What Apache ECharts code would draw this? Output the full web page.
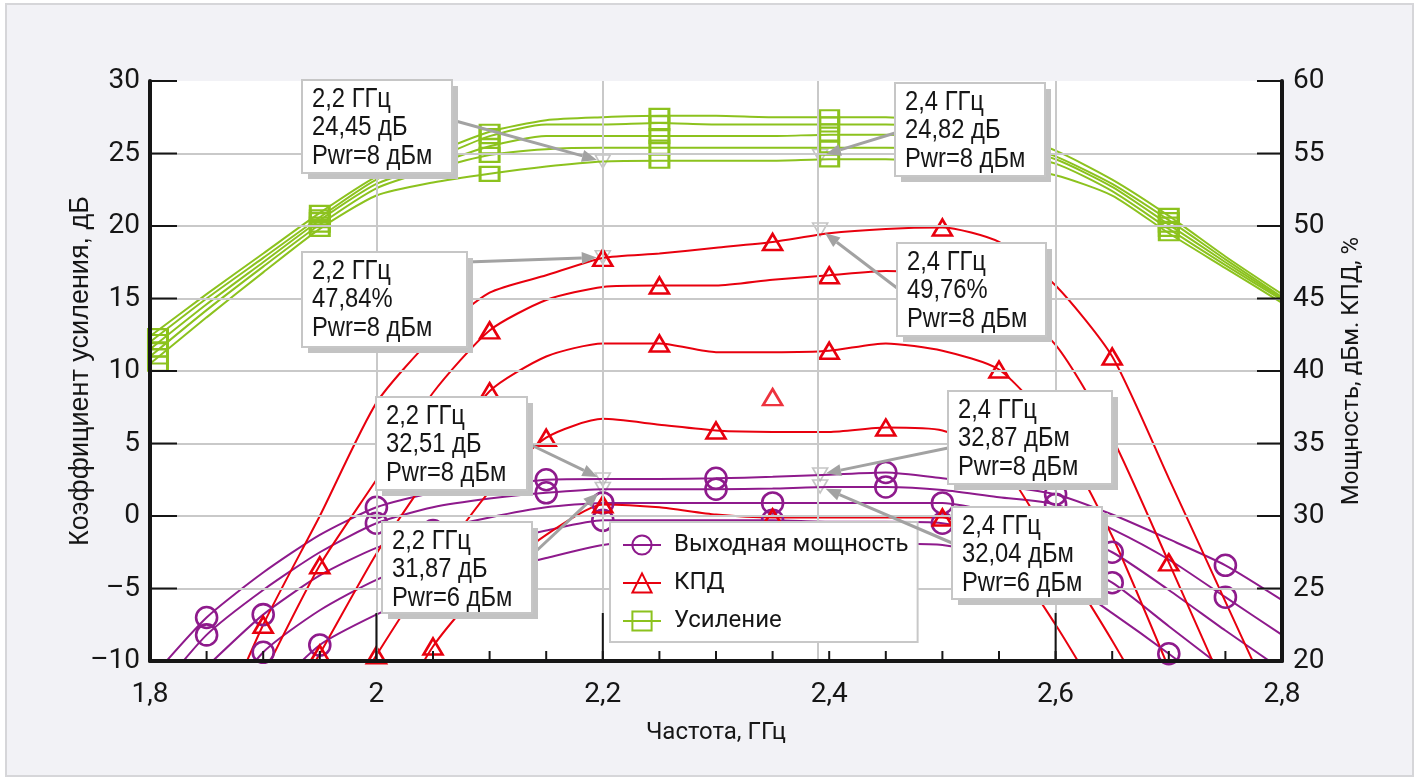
<!DOCTYPE html>
<html><head><meta charset="utf-8">
<script src="https://cdn.jsdelivr.net/npm/echarts@6/dist/echarts.min.js"></script>
<style>
html,body{margin:0;padding:0;background:#fff;overflow:hidden;}
#frame{position:absolute;left:5px;top:3px;width:1405px;height:770px;border:2px solid #d6d6d9;background:#f2f2f6;}
#plotbg{position:absolute;left:150px;top:81px;width:1132px;height:580px;background:#fff;}
#chart{position:absolute;left:0;top:0;width:1422px;height:780px;}
</style></head><body><div id="frame"></div><div id="plotbg"></div><div id="chart"></div>
<script>
// ---------- data ----------
const freq = [1.8,1.85,1.9,1.95,2.0,2.05,2.1,2.15,2.2,2.25,2.3,2.35,2.4,2.45,2.5,2.55,2.6,2.65,2.7,2.75,2.8];
// tick positions
const leftTicks  = [-10,-5,0,5,10,15,20,25,30];
const rightTicks = [20,25,30,35,40,45,50,55,60];
const xMinorTicks = [1.85,1.9,1.95,2.0,2.05,2.1,2.15,2.2,2.25,2.3,2.35,2.4,2.45,2.5,2.55,2.6,2.65,2.7,2.75];
const xLongTicks = [2.0,2.2,2.6];
// gain, dB (left axis)
const gain1 = [12.4,15.3,18.1,20.9,23.4,25.0,26.5,27.3,27.5,27.6,27.6,27.5,27.5,27.5,27.2,26.5,25.2,23.2,20.7,17.9,15.3];
const gain2 = [12.0,15.0,17.8,20.6,23.2,24.6,26.2,27.0,27.0,27.1,27.0,27.0,27.0,27.0,26.8,26.1,24.8,22.9,20.4,17.7,15.1];
const gain3 = [11.5,14.6,17.5,20.4,22.9,24.2,25.5,26.2,26.2,26.2,26.2,26.2,26.3,26.3,26.1,25.6,24.6,22.7,20.1,17.5,15.0];
const gain4 = [11.0,14.2,17.2,20.1,22.6,23.9,24.9,25.3,25.4,25.4,25.4,25.4,25.4,25.4,25.3,25.0,24.3,22.4,19.8,17.3,14.9];
const gain5 = [10.5,13.7,16.8,19.8,22.1,23.0,23.6,24.1,24.45,24.5,24.5,24.5,24.6,24.6,24.4,24.1,23.5,22.1,19.5,17.1,14.7];
// efficiency, % (right axis)
const eff1 = [null,13.5,22.5,30.0,37.8,42.3,45.4,46.6,47.8,48.1,48.5,48.9,49.5,49.8,49.9,48.9,45.9,41.0,32.6,24.1,15.6];
const eff2 = [null,null,19.0,26.6,32.5,38.5,42.8,44.9,45.8,45.9,45.9,46.3,46.6,46.9,46.6,44.9,41.8,35.4,26.8,18.0,null];
const eff3 = [null,null,14.0,20.5,27.4,33.2,38.6,41.0,41.9,41.9,41.3,41.3,41.4,41.9,41.4,40.1,35.9,28.6,19.5,null,null];
const eff4 = [null,null,null,14.0,20.4,26.4,31.7,35.4,36.7,36.3,35.9,35.8,35.8,36.1,35.9,33.8,27.7,21.4,14.6,null,null];
const eff5 = [null,null,null,null,14.0,21.0,25.6,28.7,30.8,30.6,30.1,29.9,29.9,29.9,29.9,28.0,22.5,16.0,null,null,null];
const effStray = [[2.35,38.2]];
// output power, dBm (right axis)
const pout1 = [18.7,23.0,26.1,28.7,30.6,31.6,32.1,32.5,32.55,32.55,32.6,32.7,32.85,33.0,32.6,32.1,31.5,30.1,28.4,26.6,24.2];
const pout2 = [17.2,21.8,24.9,27.5,29.5,30.6,31.2,31.6,31.85,31.85,31.85,31.9,32.0,32.0,31.8,31.3,30.8,29.1,27.0,24.4,21.8];
const pout3 = [null,19.6,23.2,25.9,27.8,29.0,29.9,30.6,30.9,30.9,30.9,30.9,30.9,30.9,30.9,30.2,29.1,27.5,24.9,22.1,19.4];
const pout4 = [null,15.5,20.6,23.5,25.6,27.0,28.1,29.0,29.7,29.7,29.7,29.7,29.6,29.6,29.5,28.7,27.3,25.4,22.4,19.4,null];
const pout5 = [null,null,17.3,21.1,23.2,24.9,26.1,27.1,28.0,28.3,28.3,28.3,28.3,28.1,28.0,27.2,25.9,23.3,20.5,17.5,null];
// marker positions (indices into freq)
const gainMarks = [0,3,6,9,12,15,18];
const eff1Marks = [2,5,8,11,14,17];
const eff2Marks = [3,6,9,12,15,18];
const eff3Marks = [3,6,9,12,15];
const eff4Marks = [4,7,10,13,16];
const eff5Marks = [5,8,11,14];
const pout12Marks = [1,4,7,10,13,16,19];
const pout34Marks = [2,5,8,11,14,17];
const pout5Marks = [3,6,9,12,15,18];
// cursor / grid lines
const vLines = [2.0,2.2,2.392,2.6];
// annotations: frequency, value, axis (0 left, 1 right), text
const annFreq  = [2.2, 2.392, 2.2, 2.392, 2.2, 2.2, 2.392, 2.392];
const annValue = [24.45, 24.82, 47.84, 49.76, 32.51, 31.87, 32.87, 32.04];
const annAxis  = [0, 0, 1, 1, 1, 1, 1, 1];
const annText  = [
  ['2,2 ГГц','24,45 дБ','Pwr=8 дБм'],
  ['2,4 ГГц','24,82 дБ','Pwr=8 дБм'],
  ['2,2 ГГц','47,84%','Pwr=8 дБм'],
  ['2,4 ГГц','49,76%','Pwr=8 дБм'],
  ['2,2 ГГц','32,51 дБ','Pwr=8 дБм'],
  ['2,2 ГГц','31,87 дБ','Pwr=6 дБм'],
  ['2,4 ГГц','32,87 дБм','Pwr=8 дБм'],
  ['2,4 ГГц','32,04 дБм','Pwr=6 дБм']
];
// box layout in pixels: x, y, w, h, arrow start x, y
const annBox = [
  [302,80,150,93, 452,120],
  [895,83,150,93, 895,133],
  [302,252,165,95, 467,262],
  [897,243,149,93, 897,288],
  [376,397,151,93, 527,443],
  [382,522,150,91, 532,555],
  [948,391,164,93, 948,448],
  [952,507,150,92, 952,543]
];

// ---------- style ----------
const SANS = "Roboto,'Liberation Sans',sans-serif";
const ARIAL = "'Liberation Sans',Arial,sans-serif";
const INK = '#161616';
const GREEN = '#8cc21e', RED = '#e8000e', PURPLE = '#8e1a8c';
const fmt = v => (v < 0 ? '\u2013' + (-v) : String(v)).replace('.', ',');

function curve(name, vals, marks, yIdx, color, symbol, size, z, edgeShift) {
  const data = [];
  vals.forEach((v, i) => {
    if (v === null) return;
    const item = { value: [freq[i], v] };
    if (!marks.includes(i)) item.symbol = 'none';
    else if (i === 0 && edgeShift) item.symbolOffset = [edgeShift, 0];
    data.push(item);
  });
  return {
    name, type: 'line', yAxisIndex: yIdx, data, smooth: 0.22,
    symbol, symbolSize: size, showSymbol: true, showAllSymbol: true, clip: true, z: z,
    lineStyle: { color, width: 2 },
    itemStyle: { color: 'rgba(255,255,255,0)', borderColor: color, borderWidth: 2.6 },
    emphasis: { disabled: true }, silent: true
  };
}

const series = [];
const annL = [], annR = [];
annFreq.forEach((f, i) => (annAxis[i] === 0 ? annL : annR).push([f, annValue[i]]));
series.push({
  type: 'scatter', yAxisIndex: 0, data: annL, symbol: 'triangle', symbolRotate: 180, symbolSize: [15, 13], z: 1,
  itemStyle: { color: 'rgba(255,255,255,0)', borderColor: '#b5b5b5', borderWidth: 1.6 }, silent: true,
  markLine: { silent: true, symbol: 'none', label: { show: false }, animation: false,
    lineStyle: { color: '#c9c9c9', width: 2, type: 'solid' },
    data: vLines.map(x => ({ xAxis: x })) }
});
const triL = 0;
series.push({
  type: 'scatter', yAxisIndex: 1, data: annR, symbol: 'triangle', symbolRotate: 180, symbolSize: [15, 13], z: 1,
  itemStyle: { color: 'rgba(255,255,255,0)', borderColor: '#b5b5b5', borderWidth: 1.6 }, silent: true
});
const triR = 1;

const PN = 'Выходная мощность', EN = 'КПД', GN = 'Усиление';
[[pout1,pout12Marks],[pout2,pout12Marks],[pout3,pout34Marks],[pout4,pout34Marks],[pout5,pout5Marks]].forEach(([v,m]) =>
  series.push(curve(PN, v, m, 1, PURPLE, 'circle', 21, 3)));
[[eff1,eff1Marks],[eff2,eff2Marks],[eff3,eff3Marks],[eff4,eff4Marks],[eff5,eff5Marks]].forEach(([v,m]) =>
  series.push(curve(EN, v, m, 1, RED, 'triangle', [19, 16], 3)));
series.push({ name: EN, type: 'scatter', yAxisIndex: 1, data: effStray, symbol: 'triangle', symbolSize: [19, 16], z: 3,
  itemStyle: { color: 'rgba(255,255,255,0)', borderColor: RED, borderWidth: 2.6 }, silent: true });
[gain1,gain2,gain3,gain4,gain5].forEach(v => series.push(curve(GN, v, gainMarks, 0, GREEN, 'rect', [19, 14], 3, 8)));

const axisLbl = { color: INK, fontFamily: SANS, fontSize: 28 };
const option = {
  animation: false,
  grid: { left: 150, top: 81, right: 140, bottom: 119, show: false },
  xAxis: {
    type: 'value', min: 1.8, max: 2.8, interval: 0.2, z: 5,
    axisLine: { onZeroAxisIndex: 1, lineStyle: { color: INK, width: 4 } },
    axisTick: { show: false },
    splitLine: { show: false },
    axisLabel: Object.assign({ margin: 20, formatter: fmt }, axisLbl),
    name: 'Частота, ГГц', nameLocation: 'middle', nameGap: 60, nameMoveOverlap: false,
    nameTextStyle: { color: INK, fontFamily: SANS, fontSize: 24 }
  },
  yAxis: [{
    type: 'value', min: -10, max: 30, interval: 5, position: 'left', z: 5,
    axisLine: { show: true, lineStyle: { color: INK, width: 4 } },
    axisTick: { show: false },
    splitLine: { show: true, showMaxLine: false, lineStyle: { color: '#c9c9c9', width: 2 } },
    axisLabel: Object.assign({ margin: 10, formatter: fmt }, axisLbl),
    name: 'Коэффициент усиления, дБ', nameLocation: 'middle', nameGap: 56, nameRotate: 90, nameMoveOverlap: false,
    nameTextStyle: { color: INK, fontFamily: ARIAL, fontSize: 27 }
  }, {
    type: 'value', min: 20, max: 60, interval: 5, position: 'right', z: 5,
    axisLine: { show: true, lineStyle: { color: INK, width: 4 } },
    axisTick: { show: false },
    splitLine: { show: false },
    axisLabel: Object.assign({ margin: 11, formatter: fmt }, axisLbl),
    name: 'Мощность, дБм. КПД, %', nameLocation: 'middle', nameGap: 58, nameRotate: 90, nameMoveOverlap: false,
    nameTextStyle: { color: INK, fontFamily: SANS, fontSize: 24 }
  }],
  legend: {
    data: [PN, EN, GN], orient: 'vertical', left: 610, top: 522, z: 6,
    padding: [11, 9, 9, 12], itemWidth: 38, itemHeight: 24, itemGap: 14,
    backgroundColor: '#fff', borderColor: '#c8c8c8', borderWidth: 2, selectedMode: false,
    textStyle: { color: INK, fontFamily: SANS, fontSize: 24, padding: [0, 0, 0, 8] }
  },
  series
};

const chart = echarts.init(document.getElementById('chart'));
chart.setOption(option);

const graphics = [];
// inward tick marks, positioned through the series' coordinate system
const toL = (x, y) => chart.convertToPixel({ seriesIndex: triL }, [x, y]);
const toR = (x, y) => chart.convertToPixel({ seriesIndex: triR }, [x, y]);
const tick = (x1, y1, x2, y2) => graphics.push({ type: 'line', z: 45, silent: true,
  shape: { x1, y1, x2, y2 }, style: { stroke: INK, lineWidth: 2 } });
leftTicks.forEach(v => { const p = toL(1.8, v); tick(p[0], p[1], p[0] + 27, p[1]); });
rightTicks.forEach(v => { const p = toR(2.8, v); tick(p[0] - 25, p[1], p[0], p[1]); });
xMinorTicks.forEach(v => { const p = toL(v, -10); tick(p[0], p[1] - 10, p[0], p[1]); });
xLongTicks.forEach(v => { const p = toL(v, -10); tick(p[0], p[1] - 48, p[0], p[1]); });

// annotation boxes with arrows, anchored to the data points
annFreq.forEach((f, i) => {
  const p = chart.convertToPixel({ seriesIndex: annAxis[i] === 0 ? triL : triR }, [f, annValue[i]]);
  const [bx, by, bw, bh, sx, sy] = annBox[i];
  let dx = p[0] - sx, dy = p[1] - sy;
  const len = Math.hypot(dx, dy); dx /= len; dy /= len;
  const tx = p[0] - dx * 6, ty = p[1] - dy * 6;
  const bxx = tx - dx * 15, byy = ty - dy * 15;
  const nx = -dy, ny = dx;
  graphics.push({ type: 'line', z: 40, silent: true, shape: { x1: sx, y1: sy, x2: bxx, y2: byy },
    style: { stroke: '#a2a2a2', lineWidth: 3 } });
  graphics.push({ type: 'polygon', z: 40, silent: true,
    shape: { points: [[tx, ty], [bxx + nx * 6, byy + ny * 6], [bxx - nx * 6, byy - ny * 6]] },
    style: { fill: '#a2a2a2' } });
  graphics.push({ type: 'rect', z: 41, silent: true, shape: { x: bx + 6, y: by + 6, width: bw, height: bh },
    style: { fill: '#c3c3c3' } });
  graphics.push({ type: 'rect', z: 42, silent: true, shape: { x: bx, y: by, width: bw, height: bh },
    style: { fill: '#fff', stroke: '#c6c6c6', lineWidth: 2 } });
  graphics.push({ type: 'text', z: 43, silent: true, x: bx + 10, y: by + 5, scaleX: 0.88, scaleY: 1,
    style: { text: annText[i].join('\n'), fill: INK, font: "27px " + ARIAL, lineHeight: 28.5,
      verticalAlign: 'top', align: 'left' } });
});
chart.setOption({ graphic: graphics });
</script></body></html>
